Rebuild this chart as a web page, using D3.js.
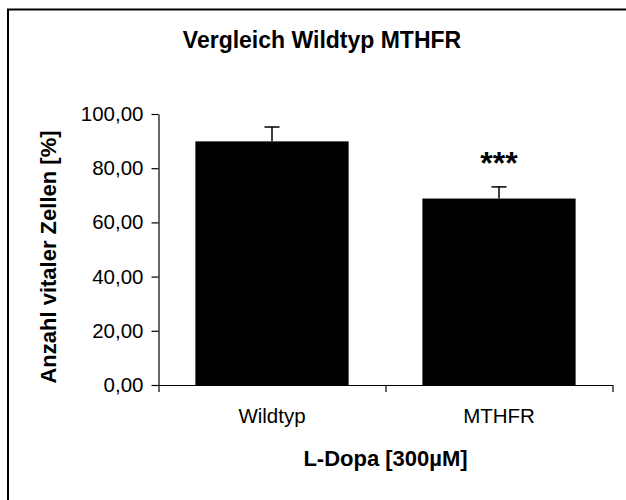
<!DOCTYPE html>
<html>
<head>
<meta charset="utf-8">
<script src="https://cdn.jsdelivr.net/npm/d3@7"></script>
<style>
  body { margin: 0; background: #fff; }
  svg { font-family: "Liberation Sans", Arial, sans-serif; display: block; }
</style>
</head>
<body>
<svg width="626" height="500"></svg>
<script>
// data
var categories = ["Wildtyp", "MTHFR"];
var means = [89.9, 68.8];
var errors = [5.3, 4.3];
var stars = ["", "***"];
var yTicks = [0, 20, 40, 60, 80, 100];

var svg = d3.select("svg");

// frame (only left and top edge are in view)
svg.append("rect")
  .attr("x", 8).attr("y", 9.5)
  .attr("width", 800).attr("height", 700)
  .attr("fill", "none").attr("stroke", "#000").attr("stroke-width", 2);

// plot area edges (note: "top" is reserved on window, so use other names)
var plotLeft = 158.5, plotRight = 612.5, plotTop = 114, plotBottom = 385;

var y = d3.scaleLinear().domain([0, 100]).range([plotBottom, plotTop]);
var x = d3.scaleBand().domain(categories).range([plotLeft, plotRight])
  .paddingInner(0.325).paddingOuter(0.1625);
// category boundaries for the tick marks
var xb = d3.scaleLinear().domain([0, categories.length]).range([plotLeft, plotRight]);

var de = d3.formatLocale({decimal: ",", thousands: ".", grouping: [3], currency: ["", " €"]});
var fmt = de.format(".2f");

// bars
svg.selectAll("rect.bar").data(means)
  .enter().append("rect")
  .attr("class", "bar")
  .attr("x", function(d, i) { return x(categories[i]); })
  .attr("y", function(d) { return y(d); })
  .attr("width", x.bandwidth())
  .attr("height", function(d) { return y(0) - y(d); })
  .attr("fill", "#000");

// error bars (upper only)
var capW = 15;
svg.selectAll("line.err").data(means)
  .enter().append("line")
  .attr("class", "err")
  .attr("x1", function(d, i) { return x(categories[i]) + x.bandwidth() / 2; })
  .attr("x2", function(d, i) { return x(categories[i]) + x.bandwidth() / 2; })
  .attr("y1", function(d) { return y(d); })
  .attr("y2", function(d, i) { return y(d + errors[i]); })
  .attr("stroke", "#000").attr("stroke-width", 1.5);
svg.selectAll("line.cap").data(means)
  .enter().append("line")
  .attr("class", "cap")
  .attr("x1", function(d, i) { return x(categories[i]) + x.bandwidth() / 2 - capW / 2; })
  .attr("x2", function(d, i) { return x(categories[i]) + x.bandwidth() / 2 + capW / 2; })
  .attr("y1", function(d, i) { return y(d + errors[i]); })
  .attr("y2", function(d, i) { return y(d + errors[i]); })
  .attr("stroke", "#000").attr("stroke-width", 1.5);

// significance stars
svg.selectAll("text.star").data(means)
  .enter().append("text")
  .attr("class", "star")
  .attr("x", function(d, i) { return x(categories[i]) + x.bandwidth() / 2; })
  .attr("y", function(d, i) { return y(d + errors[i]) - 13; })
  .attr("text-anchor", "middle")
  .attr("font-size", 32).attr("font-weight", "bold")
  .text(function(d, i) { return stars[i]; });

// y axis
var yAxis = svg.append("g")
  .attr("transform", "translate(" + plotLeft + ",0)")
  .call(d3.axisLeft(y).tickValues(yTicks).tickFormat(fmt).tickSize(7).tickSizeOuter(0).tickPadding(8));

// x axis
var xAxis = svg.append("g")
  .attr("transform", "translate(0," + plotBottom + ")")
  .call(d3.axisBottom(xb).tickValues(d3.range(categories.length + 1)).tickFormat("").tickSize(7).tickSizeOuter(0));

svg.selectAll(".domain, .tick line").attr("stroke", "#000").attr("stroke-width", 1.2);
yAxis.selectAll("text").attr("font-size", 20.5).attr("fill", "#000")
  .attr("font-family", "Liberation Sans, Arial, sans-serif");

// category labels
svg.selectAll("text.cat").data(categories)
  .enter().append("text")
  .attr("class", "cat")
  .attr("x", function(d) { return x(d) + x.bandwidth() / 2; })
  .attr("y", plotBottom + 38)
  .attr("text-anchor", "middle")
  .attr("font-size", 20.5)
  .text(function(d) { return d; });

// titles
svg.append("text")
  .attr("x", 322).attr("y", 48)
  .attr("text-anchor", "middle")
  .attr("font-size", 23).attr("font-weight", "bold")
  .text("Vergleich Wildtyp MTHFR");

svg.append("text")
  .attr("x", (plotLeft + plotRight) / 2).attr("y", 466)
  .attr("text-anchor", "middle")
  .attr("font-size", 22).attr("font-weight", "bold")
  .text("L-Dopa [300µM]");

svg.append("text")
  .attr("transform", "translate(56,257) rotate(-90)")
  .attr("text-anchor", "middle")
  .attr("font-size", 22).attr("font-weight", "bold")
  .text("Anzahl vitaler Zellen [%]");
</script>
</body>
</html>
